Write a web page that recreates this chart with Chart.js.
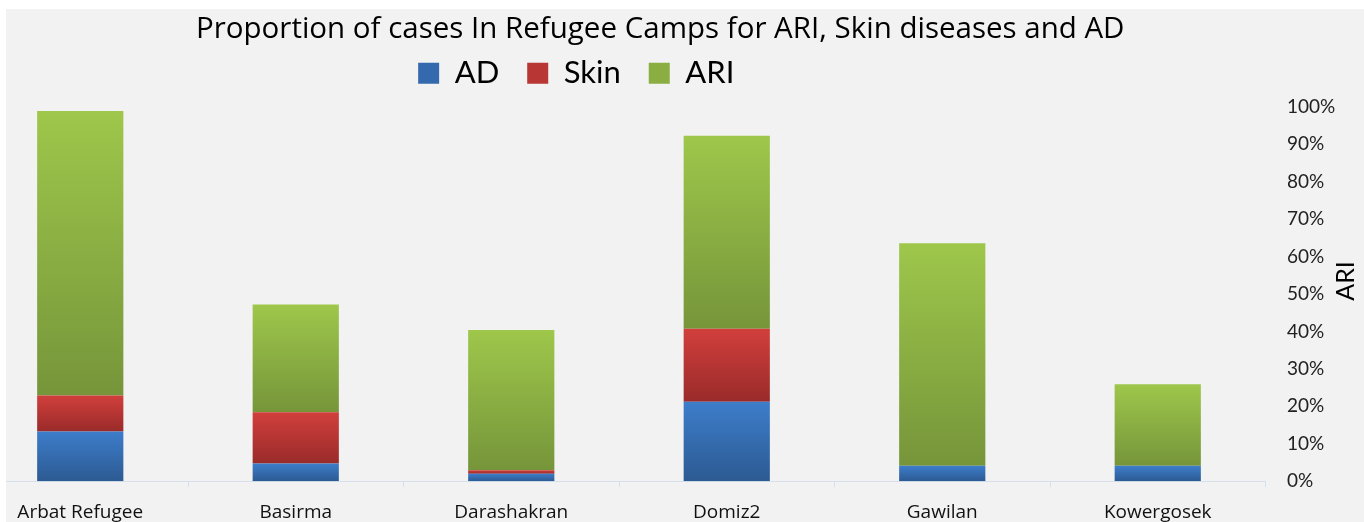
<!doctype html>
<html>
<head>
<meta charset="utf-8">
<title>Proportion of cases In Refugee Camps</title>
<script src="https://cdn.jsdelivr.net/npm/chart.js@4.4.1/dist/chart.umd.min.js"></script>
<style>
  body { margin: 0; background: #fff; }
  #wrap { position: absolute; left: 6px; top: 9px; width: 1358px; height: 513px; background: #f2f2f2; overflow: hidden; }
  #chart { position: absolute; left: -40px; top: 0; }
</style>
</head>
<body>
<div id="wrap"><canvas id="chart" width="1398" height="529"></canvas></div>
<script>
// values, in percent
var camps = ['Arbat Refugee', 'Basirma', 'Darashakran', 'Domiz2', 'Gawilan', 'Kowergosek'];
var adCases = [13.3, 4.7, 2.0, 21.2, 4.1, 4.1];
var skinCases = [9.6, 13.7, 0.9, 19.5, 0, 0];
var ariCases = [76.0, 28.8, 37.5, 51.6, 59.5, 21.8];
var yTicks = [0, 10, 20, 30, 40, 50, 60, 70, 80, 90, 100];

var FONT = 'Open Sans';
var LEGEND_FONT = 'Lato';
// [top, bottom] of each bar gradient, then a flat colour for the legend box
var blues = ['#3d7dca', '#2c5a92', '#3569ad'];
var reds = ['#d13f3c', '#992b2a', '#b83634'];
var greens = ['#9ec74b', '#76953a', '#8bae43'];

function barGradient(cols) {
  return function (c) {
    var chart = c.chart;
    if (!chart.chartArea || c.type !== 'data' || !chart.scales.y) return cols[1];
    var i = c.dataIndex, d = c.datasetIndex, start = 0;
    for (var k = 0; k < d; k++) start += chart.data.datasets[k].data[i];
    var end = start + chart.data.datasets[d].data[i];
    var y0 = chart.scales.y.getPixelForValue(start);
    var y1 = chart.scales.y.getPixelForValue(end);
    if (!isFinite(y0) || !isFinite(y1) || y0 - y1 < 1) return cols[1];
    var g = chart.ctx.createLinearGradient(0, y1, 0, y0);
    g.addColorStop(0, cols[0]);
    g.addColorStop(1, cols[1]);
    return g;
  };
}

// move title / legend to where they sit in the picture
var shiftBoxes = {
  id: 'shiftBoxes',
  afterLayout: function (chart) {
    var t = chart.titleBlock, l = chart.legend;
    t.left -= 8; t.right -= 8;
    l.left -= 92; l.right -= 92;
    l.top -= 7; l.bottom -= 7;
  }
};

// "ARI" reading bottom to top, right of the axis
var sideTitle = {
  id: 'sideTitle',
  afterDraw: function (chart) {
    var ctx = chart.ctx;
    ctx.save();
    ctx.translate(1380, 272);
    ctx.rotate(-Math.PI / 2);
    ctx.font = '25px ' + LEGEND_FONT;
    ctx.fillStyle = '#000';
    ctx.textAlign = 'center';
    ctx.textBaseline = 'middle';
    ctx.fillText('ARI', 0, 0);
    ctx.restore();
  }
};

var legendFills = [blues[2], reds[2], greens[2]];

new Chart(document.getElementById('chart'), {
  type: 'bar',
  data: {
    labels: camps,
    datasets: [
      { label: 'AD', data: adCases, backgroundColor: barGradient(blues) },
      { label: 'Skin', data: skinCases, backgroundColor: barGradient(reds) },
      { label: 'ARI', data: ariCases, backgroundColor: barGradient(greens) }
    ]
  },
  options: {
    responsive: false,
    animation: false,
    devicePixelRatio: 1,
    layout: { padding: { left: 6.5, right: 0, top: 0, bottom: 0 } },
    datasets: { bar: { categoryPercentage: 1, barPercentage: 0.4, borderWidth: 0 } },
    plugins: {
      tooltip: { enabled: false },
      title: {
        display: true,
        text: 'Proportion of cases In Refugee Camps for ARI, Skin diseases and AD',
        color: '#000',
        font: { family: FONT, size: 29.5, weight: 'normal', lineHeight: 0.5 },
        padding: { top: 13, bottom: 0 }
      },
      legend: {
        display: true,
        position: 'top',
        labels: {
          color: '#000',
          font: { family: LEGEND_FONT, size: 31 },
          boxWidth: 21,
          boxHeight: 21,
          padding: 28,
          generateLabels: function (chart) {
            var items = Chart.defaults.plugins.legend.labels.generateLabels(chart);
            items.forEach(function (it, i) {
              it.fillStyle = legendFills[i];
              it.strokeStyle = 'rgba(0,0,0,0)';
              it.lineWidth = 0;
            });
            return items;
          }
        }
      }
    },
    scales: {
      x: {
        stacked: true,
        grid: { offset: true, drawOnChartArea: false, tickLength: 6, color: '#d6e0ec' },
        border: { color: '#d6e0ec' },
        ticks: { color: '#111', font: { family: FONT, size: 19 }, padding: 14, maxRotation: 0 }
      },
      y: {
        stacked: true,
        position: 'right',
        min: 0,
        max: 100.3,
        grid: { display: false, drawTicks: false },
        border: { display: false },
        afterBuildTicks: function (s) { s.ticks = yTicks.map(function (v) { return { value: v }; }); },
        afterFit: function (s) { s.width = 98.5; },
        ticks: {
          color: '#222',
          font: { family: LEGEND_FONT, size: 19 },
          padding: 21.5,
          callback: function (v) { return v + '%'; }
        }
      }
    }
  },
  plugins: [shiftBoxes, sideTitle]
});
</script>
</body>
</html>
